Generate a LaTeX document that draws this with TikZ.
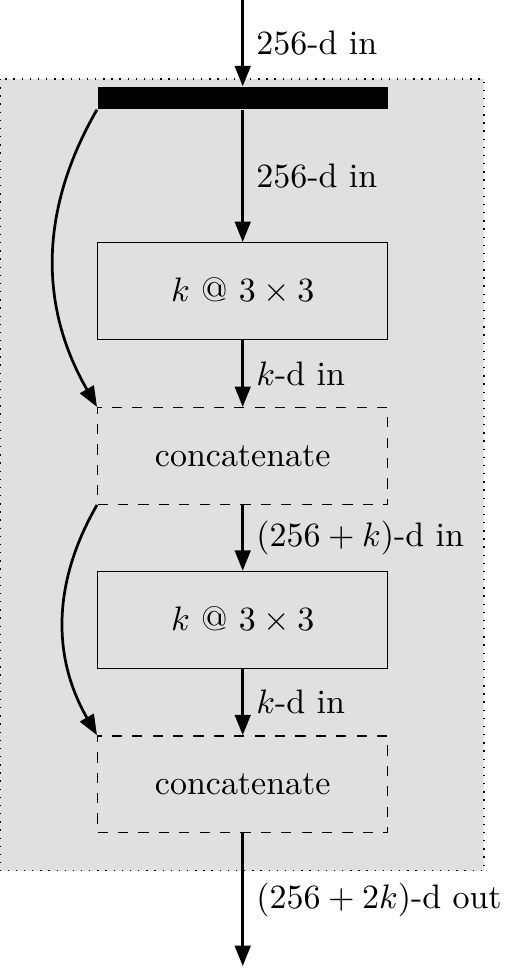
\documentclass[tikz,border=0pt]{standalone}
\usetikzlibrary{arrows.meta}
\begin{document}
\begin{tikzpicture}[
  arr/.style={thick,-{Triangle[length=6pt,width=4.6pt]}},
  lab/.style={anchor=west,xshift=0.01cm},
  conv/.style={draw,thin,minimum width=3cm,minimum height=1cm,inner sep=0pt},
  cat/.style={conv,dashed},
  region/.style={fill=black!12},
  regionedge/.style={dotted,thin},
]
\useasboundingbox (0,0) rectangle (5.295,-10.031);
\fill[region] (0,-0.817) rectangle (5.005,-9.005);
\draw[regionedge] (0,-0.817) rectangle (5.005,-9.005);
\node[fill=black,minimum width=3cm,minimum height=0.227cm,inner sep=0pt] (bar) at (2.51,-1.013) {};
\coordinate (in) at (2.51,0);
\node[conv] (c1) at (2.51,-3.01) {$k$ @ $3\times 3$};
\node[cat] (k1) at (2.51,-4.715) {concatenate};
\node[conv] (c2) at (2.51,-6.41) {$k$ @ $3\times 3$};
\node[cat] (k2) at (2.51,-8.11) {concatenate};
\coordinate (out) at (2.51,-9.99);
\draw[arr] (in) -- node[lab] {256-d in} (bar.north);
\draw[arr] (bar.south) -- node[lab] {256-d in} (c1.north);
\draw[arr] (c1.south) -- node[lab] {$k$-d in} (k1.north);
\draw[arr] (k1.south) -- node[lab] {$(256+k)$-d in} (c2.north);
\draw[arr] (c2.south) -- node[lab] {$k$-d in} (k2.north);
\draw[arr] (k2.south) -- node[lab] {$(256+2k)$-d out} (out);
\draw[arr] (bar.south west) to[bend right=30] (k1.north west);
\draw[arr] (k1.south west) to[bend right=30] (k2.north west);
\end{tikzpicture}
\end{document}
